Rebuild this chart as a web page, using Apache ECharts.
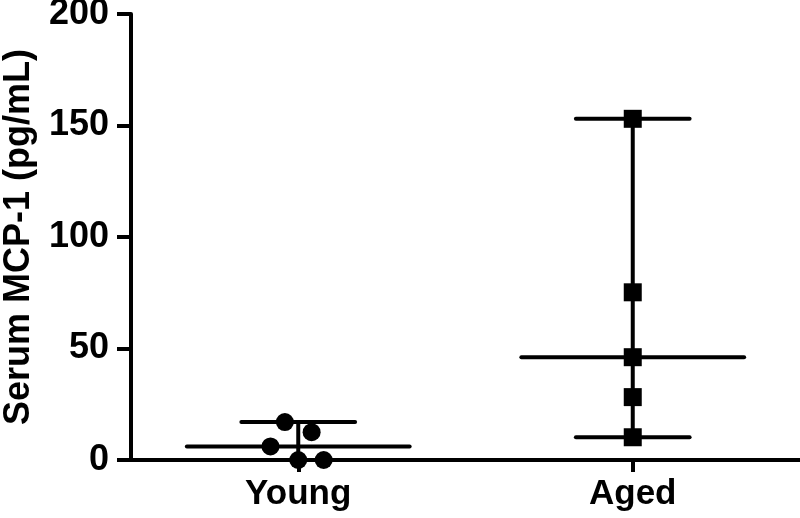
<!DOCTYPE html>
<html>
<head>
<meta charset="utf-8">
<script src="https://cdn.jsdelivr.net/npm/echarts@6/dist/echarts.min.js"></script>
<style>
  html, body { margin: 0; padding: 0; background: #fff; }
  #chart { width: 800px; height: 518px; }
</style>
</head>
<body>
<div id="chart"></div>
<script>
const groups = ['Young', 'Aged'];
const groupPos = [1, 2];
const yTicks = [0, 50, 100, 150, 200];

const youngValues = [17, 12.5, 6.1, 0, 0];
const youngX = [0.96, 1.04, 0.917, 1.0, 1.076];
const agedValues = [153, 75.2, 46.1, 28.2, 10.2];
const agedX = [2, 2, 2, 2, 2];

function median(arr) {
  const s = arr.slice().sort((a, b) => a - b);
  const m = Math.floor(s.length / 2);
  return s.length % 2 ? s[m] : (s[m - 1] + s[m]) / 2;
}

const summary = [youngValues, agedValues].map((vals, i) => [
  groupPos[i], median(vals), Math.min(...vals), Math.max(...vals)
]);

const font = 'Liberation Sans, Arial, Helvetica, sans-serif';
const lineW = 4;

const chart = echarts.init(document.getElementById('chart'));
chart.setOption({
  animation: false,
  backgroundColor: '#fff',
  grid: { left: 131, right: 0, top: 14, bottom: 58, outerBoundsMode: 'none', containLabel: false },
  xAxis: {
    type: 'value',
    min: 0.5,
    max: 2.5,
    axisLine: { lineStyle: { color: '#000', width: lineW } },
    axisTick: { length: 12, lineStyle: { color: '#000', width: lineW }, customValues: groupPos },
    axisLabel: {
      customValues: groupPos,
      formatter: v => groups[groupPos.indexOf(v)],
      color: '#000', fontSize: 35, fontWeight: 'bold', fontFamily: font, margin: 17
    },
    splitLine: { show: false }
  },
  yAxis: {
    type: 'value',
    min: 0,
    max: 200,
    interval: 50,
    name: 'Serum MCP-1 (pg/mL)',
    nameLocation: 'middle',
    nameGap: 94,
    nameTextStyle: { color: '#000', fontSize: 36, fontWeight: 'bold', fontFamily: font },
    axisLine: { show: true, lineStyle: { color: '#000', width: lineW } },
    axisTick: { show: true, length: 14, lineStyle: { color: '#000', width: lineW } },
    axisLabel: {
      formatter: v => (yTicks.includes(v) ? String(v) : ''),
      color: '#000', fontSize: 36, fontWeight: 'bold', fontFamily: font, margin: 22
    },
    splitLine: { show: false }
  },
  series: [
    {
      type: 'custom',
      data: summary,
      z: 2,
      renderItem: (params, api) => {
        const x = api.value(0), med = api.value(1), lo = api.value(2), hi = api.value(3);
        const style = { stroke: '#000', lineWidth: lineW, lineCap: 'round' };
        const seg = (x1, y1, x2, y2) => {
          const a = api.coord([x1, y1]);
          const b = api.coord([x2, y2]);
          return { type: 'line', shape: { x1: a[0], y1: a[1], x2: b[0], y2: b[1] }, style };
        };
        return {
          type: 'group',
          children: [
            seg(x - 0.333, med, x + 0.333, med),
            seg(x, lo, x, hi),
            seg(x - 0.17, hi, x + 0.17, hi),
            seg(x - 0.17, lo, x + 0.17, lo)
          ]
        };
      }
    },
    {
      type: 'scatter',
      symbol: 'circle',
      symbolSize: 18,
      z: 3,
      itemStyle: { color: '#000', opacity: 1 },
      data: youngValues.map((v, i) => [youngX[i], v])
    },
    {
      type: 'scatter',
      symbol: 'rect',
      symbolSize: 18,
      z: 3,
      itemStyle: { color: '#000', opacity: 1 },
      data: agedValues.map((v, i) => [agedX[i], v])
    }
  ]
});
</script>
</body>
</html>
